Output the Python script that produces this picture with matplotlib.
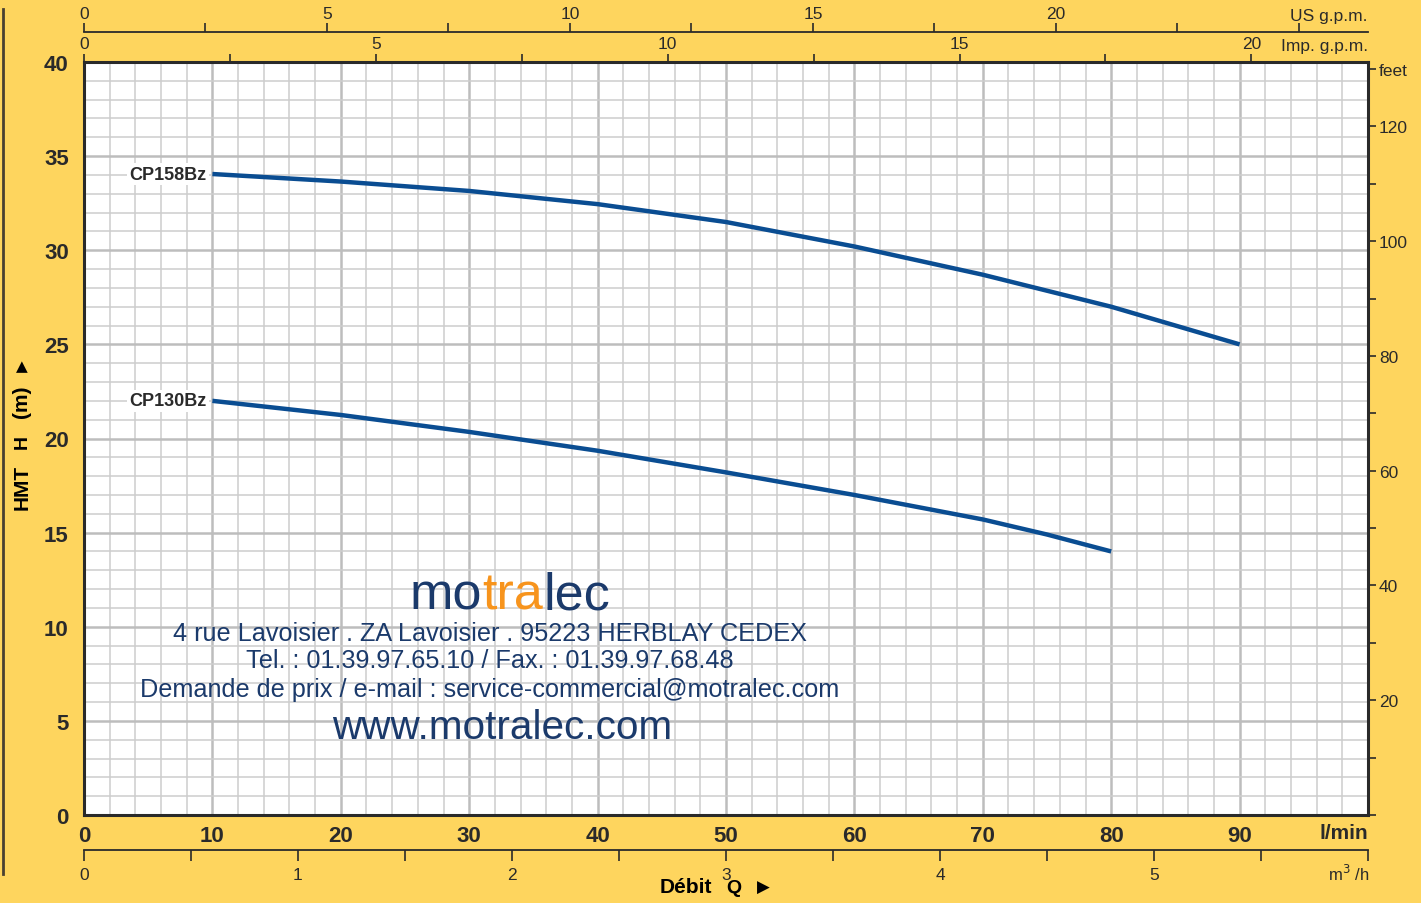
import matplotlib
matplotlib.use("Agg")
import matplotlib.pyplot as plt
from matplotlib.lines import Line2D
from matplotlib.ticker import FixedLocator, MultipleLocator

# ---------------------------------------------------------------------------
# data
# ---------------------------------------------------------------------------
flow_158 = [10, 20, 30, 40, 50, 60, 70, 80, 90]                      # l/min
head_158 = [34.05, 33.65, 33.15, 32.45, 31.5, 30.2, 28.7, 27.0, 25.0]  # m
flow_130 = [10, 20, 30, 40, 50, 60, 70, 75, 80]
head_130 = [22.0, 21.25, 20.35, 19.35, 18.2, 17.0, 15.7, 14.9, 14.0]
curve_names = ["CP158Bz", "CP130Bz"]

x_ticks = [0, 10, 20, 30, 40, 50, 60, 70, 80, 90]
y_ticks = [0, 5, 10, 15, 20, 25, 30, 35, 40]
us_gpm_ticks = [0, 5, 10, 15, 20]
imp_gpm_ticks = [0, 5, 10, 15, 20]
m3h_ticks = [0, 1, 2, 3, 4, 5]
feet_ticks = [20, 40, 60, 80, 100, 120]

address_lines = [
    "4 rue Lavoisier . ZA Lavoisier . 95223 HERBLAY CEDEX",
    "Tel. : 01.39.97.65.10 / Fax. : 01.39.97.68.48",
    "Demande de prix / e-mail : service-commercial@motralec.com",
]

# colours
BG = "#FED55E"
INK = "#2a2a2a"
CURVE = "#0a4d92"
NAVY = "#1b3a6b"
ORANGE = "#f7941d"
ARIAL = ["Liberation Sans", "DejaVu Sans"]

W, H = 1421, 904
fig = plt.figure(figsize=(W / 100, H / 100), dpi=100, facecolor=BG)
ax = fig.add_axes([84 / W, 1 - 816 / H, (1368 - 84) / W, (816 - 63) / H])
ax.set_facecolor("white")
ax.set_xlim(0, 100)
ax.set_ylim(0, 40)

# grid
ax.xaxis.set_major_locator(MultipleLocator(10))
ax.xaxis.set_minor_locator(MultipleLocator(2))
ax.yaxis.set_major_locator(MultipleLocator(5))
ax.yaxis.set_minor_locator(MultipleLocator(1))
ax.grid(which="minor", color="#cdcdcd", lw=1.1)
ax.grid(which="major", color="#bdbdbd", lw=1.8)
ax.set_axisbelow(True)
ax.tick_params(which="both", length=0)

for s in ax.spines.values():
    s.set_color(INK)
    s.set_linewidth(2.2)

# main tick labels
ax.set_xticks(x_ticks + [100])
ax.set_xticklabels([str(v) for v in x_ticks] + [""], fontsize=16, fontweight="bold",
                   family=ARIAL, color=INK)
ax.tick_params(axis="x", pad=7)
ax.set_yticks(y_ticks)
ax.set_yticklabels([str(v) for v in y_ticks], fontsize=16, fontweight="bold",
                   family=ARIAL, color=INK)
ax.tick_params(axis="y", pad=11)
ax.text(100, -0.45, "l/min", ha="right", va="top", fontsize=15, fontweight="bold",
        family=ARIAL, color=INK)

# curves
for q, h, name in [(flow_158, head_158, curve_names[0]), (flow_130, head_130, curve_names[1])]:
    ax.plot(q, h, color=CURVE, lw=3.2, solid_capstyle="butt", solid_joinstyle="round", zorder=3)
    ax.text(q[0] - 0.45, h[0], name, ha="right", va="center", fontsize=13,
            fontweight="bold", family=ARIAL, color=INK, zorder=4,
            bbox=dict(facecolor="white", edgecolor="none", pad=1.5))

# secondary scales
small = dict(labelsize=12.5, colors=INK, direction="out", width=1.2)

imp = ax.secondary_xaxis(1.0, functions=(lambda q: q / 4.546, lambda g: g * 4.546))
imp.set_xticks(imp_gpm_ticks)
imp.xaxis.set_minor_locator(MultipleLocator(2.5))
imp.tick_params(which="major", length=6, pad=2, **small)
imp.tick_params(which="minor", length=6, width=1.2, colors=INK)
imp.spines["top"].set_visible(False)
for t in imp.get_xticklabels():
    t.set_family(ARIAL)

us = ax.secondary_xaxis(1.04, functions=(lambda q: q / 3.785, lambda g: g * 3.785))
us.set_xticks(us_gpm_ticks)
us.xaxis.set_minor_locator(MultipleLocator(2.5))
us.tick_params(which="major", length=6.5, pad=1.5, **small)
us.tick_params(which="minor", length=6.5, width=1.2, colors=INK)
us.spines["top"].set_color(INK)
us.spines["top"].set_linewidth(1.3)
for t in us.get_xticklabels():
    t.set_family(ARIAL)

m3 = ax.secondary_xaxis(-0.0465, functions=(lambda q: q * 0.06, lambda m: m / 0.06))
m3.set_xticks(m3h_ticks)
m3.xaxis.set_minor_locator(FixedLocator([0.5, 1.5, 2.5, 3.5, 4.5, 5.5, 6.0]))
m3.tick_params(which="major", length=8, pad=4, **small)
m3.tick_params(which="minor", length=8, width=1.2, colors=INK)
m3.spines["bottom"].set_color(INK)
m3.spines["bottom"].set_linewidth(1.3)
for t in m3.get_xticklabels():
    t.set_family(ARIAL)

ft = ax.secondary_yaxis("right", functions=(lambda h: h * 3.2808, lambda f: f / 3.2808))
ft.set_yticks(list(range(0, 131, 10)))
ft.set_yticklabels(["feet" if v == 130 else (str(v) if v in feet_ticks else "")
                    for v in range(0, 131, 10)])
ft.tick_params(length=6, pad=2, **small)
ft.spines["right"].set_visible(False)
for t in ft.get_yticklabels():
    t.set_family(ARIAL)

# unit labels on the top / bottom scales
fig.text(1368 / W, 1 - 16 / H, "US g.p.m.", ha="right", va="center", fontsize=12.5,
         family=ARIAL, color=INK)
fig.text(1368 / W, 1 - 46 / H, "Imp. g.p.m.", ha="right", va="center", fontsize=12.5,
         family=ARIAL, color=INK)
fig.text(1369 / W, 1 - 874 / H, "m$^3$ /h", ha="right", va="center", fontsize=12,
         family=ARIAL, color=INK)

# axis titles
fig.text(686 / W, 1 - 888 / H, "Débit", ha="center", va="center", fontsize=15,
         fontweight="bold", family=ARIAL, color="black")
fig.text(734 / W, 1 - 889 / H, "Q", ha="center", va="center", fontsize=14,
         fontweight="heavy", family=ARIAL, color="black")
fig.text(763 / W, 1 - 888 / H, "\u25b6", ha="center", va="center", fontsize=12,
         family=["DejaVu Sans"], color="black")
fig.text(22 / W, 1 - 487 / H, "HMT", ha="center", va="center", rotation=90, fontsize=15,
         fontweight="bold", family=ARIAL, color="black")
fig.text(22 / W, 1 - 442 / H, "H", ha="center", va="center", rotation=90, fontsize=14,
         fontweight="heavy", family=ARIAL, color="black")
fig.text(22 / W, 1 - 402 / H, "(m)", ha="center", va="center", rotation=90, fontsize=15,
         fontweight="bold", family=ARIAL, color="black")
fig.text(22 / W, 1 - 367 / H, "\u25b2", ha="center", va="center", fontsize=11,
         family=["DejaVu Sans"], color="black")

# decorative left rule
fig.add_artist(Line2D([3 / W, 3 / W], [1 - 10 / H, 1 - 875 / H], color="#4a4030", lw=2))

# watermark
ys = [9.67, 8.23, 6.69]
for line, yv in zip(address_lines, ys):
    ax.text(31.6, yv, line, ha="center", va="center", fontsize=18.2, family=ARIAL,
            color=NAVY, zorder=5)
ax.text(32.6, 4.67, "www.motralec.com", ha="center", va="center", fontsize=29.2,
        family=ARIAL, color=NAVY, zorder=5)

fig.canvas.draw()
renderer = fig.canvas.get_renderer()
parts = [("mo", NAVY), ("tra", ORANGE), ("lec", NAVY)]
x_px = 410
for txt, col in parts:
    t = fig.text(x_px / W, 1 - 610 / H, txt, ha="left", va="baseline", fontsize=37.5,
                 family=ARIAL, color=col, zorder=6)
    x_px += t.get_window_extent(renderer).width

fig.savefig("out.png", dpi=100, facecolor=BG)
